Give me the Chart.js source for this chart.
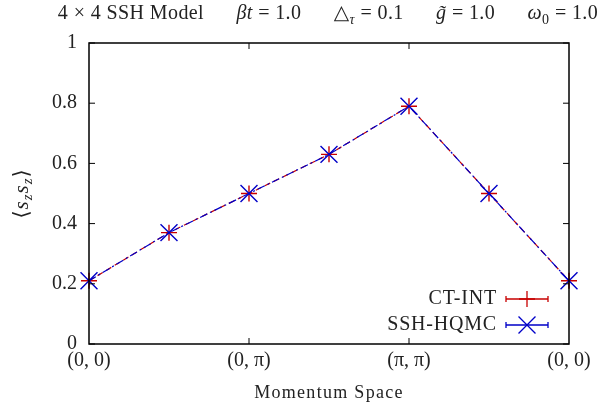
<!DOCTYPE html>
<html>
<head>
<meta charset="utf-8">
<script src="https://cdn.jsdelivr.net/npm/chart.js@4"></script>
<style>
  body { margin: 0; background: #fff; }
  #wrap { width: 600px; height: 409px; position: relative; }
</style>
</head>
<body>
<div id="wrap"><canvas id="myChart" width="600" height="409"></canvas></div>
<script>
// data
const kLabels = ["(0, 0)", "", "(0, π)", "", "(π, π)", "", "(0, 0)"];
const ctInt = [0.21, 0.37, 0.50, 0.63, 0.79, 0.50, 0.21];
const sshHqmc = [0.21, 0.37, 0.50, 0.63, 0.79, 0.50, 0.21];
const yTicks = [0, 0.2, 0.4, 0.6, 0.8, 1];

const SERIF = "'Liberation Serif', 'DejaVu Serif', serif";
const RED = "rgb(200,0,0)";
const BLUE = "rgb(0,0,200)";

// title pieces: [text, italic, sub]
const titleParts = [
  ["4 × 4 SSH Model", 0, 0], ["      ", 0, 0],
  ["βt", 1, 0], [" = 1.0", 0, 0], ["      ", 0, 0],
  ["△", 0, 0], ["τ", 1, 1], [" = 0.1", 0, 0], ["      ", 0, 0],
  ["g̃", 1, 0], [" = 1.0", 0, 0], ["      ", 0, 0],
  ["ω", 1, 0], ["0", 0, 1], [" = 1.0", 0, 0]
];

function drawParts(ctx, parts, cx, cy, size, spacing) {
  let w = 0;
  ctx.letterSpacing = (spacing || 0) + "px";
  const fontOf = (p) => (p[1] ? "italic " : "") + (p[2] ? size * 0.7 : size) + "px " + SERIF;
  parts.forEach((p) => { ctx.font = fontOf(p); w += ctx.measureText(p[0]).width; });
  let x = cx - w / 2;
  ctx.textAlign = "left";
  ctx.textBaseline = "middle";
  parts.forEach((p) => {
    ctx.font = fontOf(p);
    ctx.fillText(p[0], x, cy + (p[2] ? size * 0.3 : 0));
    x += ctx.measureText(p[0]).width;
  });
  ctx.letterSpacing = "0px";
}

const gnuplotFrame = {
  id: "gnuplotFrame",
  afterDraw(chart) {
    const ctx = chart.ctx;
    const a = chart.chartArea;
    const xs = chart.scales.x, ys = chart.scales.y;
    ctx.save();
    ctx.strokeStyle = "#000";
    ctx.lineWidth = 1.5;
    ctx.strokeRect(a.left, a.top, a.right - a.left, a.bottom - a.top);
    ctx.lineWidth = 1;
    ctx.beginPath();
    yTicks.forEach((v) => {
      const y = ys.getPixelForValue(v);
      ctx.moveTo(a.left, y); ctx.lineTo(a.left + 6, y);
      ctx.moveTo(a.right, y); ctx.lineTo(a.right - 6, y);
    });
    [2, 4].forEach((i) => {
      const x = xs.getPixelForValue(i);
      ctx.moveTo(x, a.bottom); ctx.lineTo(x, a.bottom - 6);
      ctx.moveTo(x, a.top); ctx.lineTo(x, a.top + 6);
    });
    ctx.stroke();

    ctx.fillStyle = "#222";
    drawParts(ctx, titleParts, 328, 14, 20, 0.4);

    // axis titles
    drawParts(ctx, [["Momentum Space", 0, 0]], (a.left + a.right) / 2, 393, 18, 1.3);
    ctx.save();
    ctx.translate(22, (a.top + a.bottom) / 2);
    ctx.rotate(-Math.PI / 2);
    drawParts(ctx, [["⟨", 0, 0], ["s", 1, 0], ["z", 1, 1], ["s", 1, 0], ["z", 1, 1], ["⟩", 0, 0]], 0, 0, 21, 1);
    ctx.restore();

    // legend
    const rows = [["CT-INT", RED, "cross", 299], ["SSH-HQMC", BLUE, "crossRot", 325]];
    rows.forEach((r) => {
      const y = r[3];
      ctx.font = "20px " + SERIF;
      ctx.letterSpacing = "0.8px";
      ctx.textAlign = "right";
      ctx.textBaseline = "middle";
      ctx.fillStyle = "#222";
      ctx.fillText(r[0], 497, y);
      ctx.letterSpacing = "0px";
      ctx.strokeStyle = r[1];
      ctx.lineWidth = 1.3;
      ctx.beginPath();
      ctx.moveTo(506, y); ctx.lineTo(548, y);
      ctx.moveTo(506, y - 3); ctx.lineTo(506, y + 3);
      ctx.moveTo(548, y - 3); ctx.lineTo(548, y + 3);
      ctx.stroke();
      Chart.helpers.drawPoint(ctx, {
        pointStyle: r[2], radius: r[2] === "cross" ? 8 : 12, borderWidth: 1.3
      }, 527, y);
    });
    ctx.restore();
  }
};

new Chart(document.getElementById("myChart"), {
  type: "line",
  data: {
    labels: kLabels,
    datasets: [
      {
        label: "CT-INT",
        data: ctInt,
        borderColor: RED,
        backgroundColor: RED,
        borderWidth: 1.2,
        borderDash: [6, 4],
        pointStyle: "cross",
        pointRadius: 8,
        pointBorderWidth: 1.4,
        order: 1,
      },
      {
        label: "SSH-HQMC",
        data: sshHqmc,
        borderColor: BLUE,
        backgroundColor: BLUE,
        borderWidth: 1.2,
        borderDash: [8, 3, 2, 3],
        pointStyle: "crossRot",
        pointRadius: 12,
        pointBorderWidth: 1.4,
        order: 0,
      },
    ],
  },
  options: {
    responsive: false,
    animation: false,
    layout: { padding: { top: 43, right: 31, left: 0, bottom: 0 } },
    plugins: { legend: { display: false }, title: { display: false }, tooltip: { enabled: false } },
    scales: {
      x: {
        type: "category",
        offset: false,
        grid: { display: false },
        border: { display: false },
        afterFit: (s) => { s.height = 65; },
        ticks: {
          autoSkip: false, maxRotation: 0, color: "#222", padding: -3,
          font: { family: SERIF, size: 20 },
        },
      },
      y: {
        min: 0, max: 1,
        grid: { display: false },
        border: { display: false },
        afterFit: (s) => { s.width = 89; },
        afterBuildTicks: (s) => { s.ticks = yTicks.map((v) => ({ value: v })); },
        ticks: {
          color: "#222", padding: 4,
          font: { family: SERIF, size: 20 },
          callback: (v) => String(v),
        },
      },
    },
  },
  plugins: [gnuplotFrame],
});
</script>
</body>
</html>
